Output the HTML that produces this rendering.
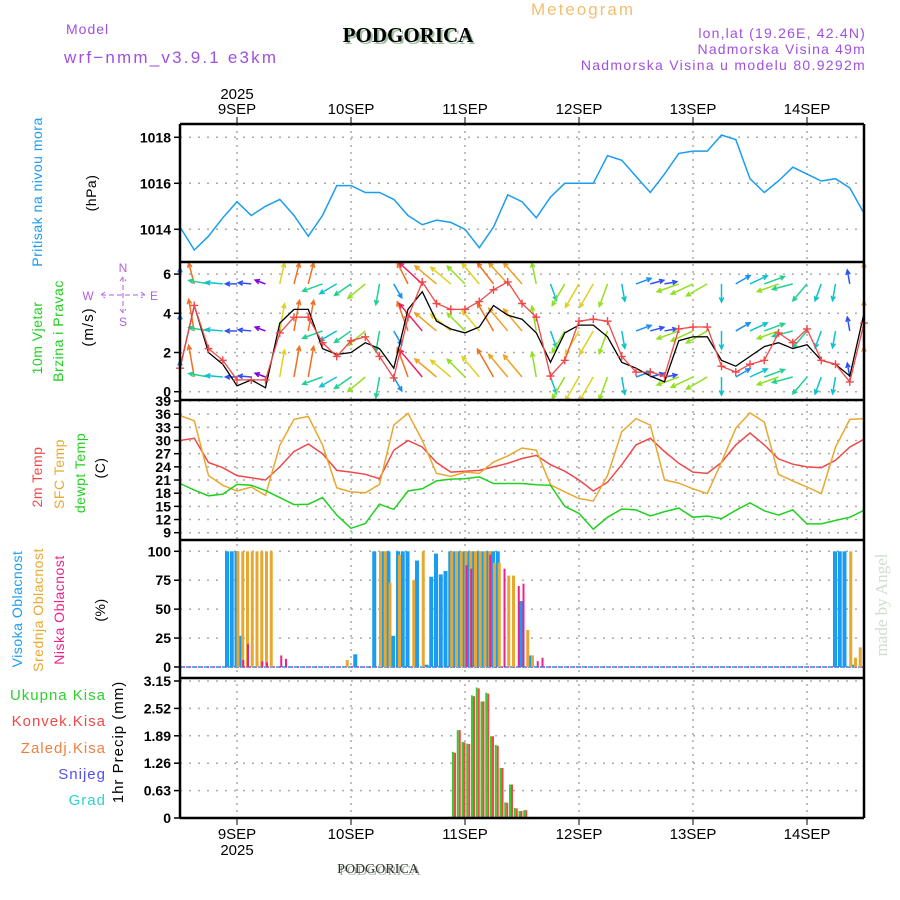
<!DOCTYPE html>
<html><head><meta charset="utf-8"><style>
body{margin:0;background:#fff;}
svg{display:block;font-family:"Liberation Sans",sans-serif;}
</style></head><body>
<svg id="c" width="900" height="900" viewBox="0 0 900 900" xmlns="http://www.w3.org/2000/svg">
<rect width="900" height="900" fill="#fff"/>
<text x="583" y="15" font-size="17" letter-spacing="2" fill="#f0c070" text-anchor="middle">Meteogram</text>
<text x="66" y="34" font-size="14" letter-spacing="1" fill="#a050e0">Model</text>
<text x="64" y="63" font-size="17" letter-spacing="2.2" fill="#a050e0">wrf−nmm_v3.9.1  e3km</text>
<text x="410" y="44" font-size="21" font-weight="bold" font-family="Liberation Serif,serif" fill="#a0c0a0" text-anchor="middle">PODGORICA</text>
<text x="408" y="42" font-size="21" font-weight="bold" font-family="Liberation Serif,serif" fill="#000" text-anchor="middle">PODGORICA</text>
<text x="866" y="38" font-size="14" letter-spacing="1.2" fill="#a050e0" text-anchor="end">lon,lat (19.26E, 42.4N)</text>
<text x="866" y="54" font-size="14" letter-spacing="1.2" fill="#a050e0" text-anchor="end">Nadmorska Visina 49m</text>
<text x="866" y="70" font-size="14" letter-spacing="1.3" fill="#a050e0" text-anchor="end">Nadmorska Visina u modelu 80.9292m</text>
<g id="g"></g>
<text x="380" y="875" font-size="14" font-family="Liberation Serif,serif" fill="#a0b0a0" text-anchor="middle">PODGORICA</text>
<text x="378" y="873" font-size="14" font-family="Liberation Serif,serif" fill="#333" text-anchor="middle">PODGORICA</text>
<text transform="translate(887,605) rotate(-90)" font-size="17" font-family="Liberation Serif,serif" fill="#d0dcd0" text-anchor="middle">made by Angel</text>
</svg>
<script>
// ---- data (3-hourly from 12UTC 8 Sep, hour index) ----
const hours3 = [0,3,6,9,12,15,18,21,24,27,30,33,36,39,42,45,48,51,54,57,60,63,66,69,72,75,78,81,84,87,90,93,96,99,102,105,108,111,114,117,120,123,126,129,132,135,138,141,144];
const pressure = [1014.1,1013.1,1013.7,1014.5,1015.2,1014.6,1015.0,1015.3,1014.6,1013.7,1014.6,1015.9,1015.9,1015.6,1015.6,1015.3,1014.6,1014.2,1014.4,1014.3,1014.0,1013.2,1014.1,1015.5,1015.2,1014.5,1015.4,1016.0,1016.0,1016.0,1017.2,1017.0,1016.3,1015.6,1016.4,1017.3,1017.4,1017.4,1018.1,1017.9,1016.2,1015.6,1016.1,1016.7,1016.4,1016.1,1016.2,1015.8,1014.7];
const windSpeed = [1.2,4.4,2.0,1.4,0.3,0.6,0.2,3.5,4.2,4.2,2.2,1.9,2.0,2.5,2.2,1.2,4.2,5.1,3.6,3.2,3.0,3.3,4.4,3.9,3.7,3.0,1.5,3.0,3.4,3.4,2.8,1.5,1.2,0.8,0.5,2.6,2.8,2.8,1.6,1.3,1.8,2.3,2.5,2.2,2.4,1.6,1.4,0.8,4.0];
const windGust = [1.2,4.4,2.2,1.6,0.6,0.6,0.6,3.0,3.8,3.8,2.5,1.8,2.6,2.8,1.8,0.7,3.8,5.6,4.5,4.2,4.2,4.6,5.2,5.6,4.5,3.8,0.8,1.6,3.6,3.7,3.6,1.8,1.0,1.0,0.8,3.2,3.3,3.3,1.3,1.0,1.4,1.6,3.0,2.5,3.2,1.6,1.4,0.5,3.5];
const windDir = [90,100,170,175,180,175,160,80,80,80,200,210,215,220,260,300,110,130,140,140,135,130,120,130,130,100,290,240,240,240,250,280,20,15,10,200,205,210,270,30,25,20,200,195,230,250,260,100,90];
const temp2m = [30.0,30.5,25.0,23.8,22.0,21.5,21.0,24.0,27.5,29.2,27.0,23.2,22.8,22.3,21.3,27.8,30.0,28.5,25.0,22.8,23.0,23.2,24.0,24.8,25.9,26.6,24.5,23.0,21.0,18.5,20.5,24.5,29.0,30.5,27.5,24.8,22.8,22.5,25.0,29.0,31.7,29.0,25.8,24.6,24.0,23.8,25.5,28.5,30.3];
const tempSfc = [35.7,34.5,22.0,19.8,18.5,19.4,17.5,28.9,34.8,35.5,29.0,19.2,18.3,18.1,20.0,33.5,36.2,30.0,22.5,21.8,22.8,22.5,25.1,26.5,28.3,27.8,19.9,18.3,16.8,16.2,22.0,32.0,35.0,33.5,21.0,20.3,19.0,17.9,25.1,32.8,36.3,34.2,22.3,20.8,19.4,17.9,28.5,34.8,35.0];
const tempDew = [20.2,18.7,17.4,17.8,20.0,19.8,18.6,17.0,15.4,15.5,17.0,13.0,10.0,11.1,15.5,14.3,18.5,19.0,20.8,21.2,21.3,21.7,20.2,20.2,20.2,19.9,19.8,15.0,13.4,9.8,12.5,14.4,14.2,12.8,13.8,14.6,12.5,12.8,12.2,14.1,15.8,14.0,13.0,14.2,11.0,11.0,11.8,12.5,14.1];
// cloud cover (hourly, only non-zero hours)
const highHours = [10,11,12,13,37,41,43,44,45,46,47,48,50,52,53,54,55,56,57,58,59,60,61,62,63,64,65,66,67,72,74,138,139,140,142];
const highVals  = [100,100,100,27,11,100,100,100,27,100,100,100,92,2,78,98,80,83,100,100,100,100,100,100,100,100,100,100,100,57,10,100,100,100,2];
const midHours = [12,13,14,15,16,17,18,19,35,42,43,44,46,49,51,57,58,59,60,61,62,63,64,65,66,67,69,70,73,74,141,142,143];
const midVals  = [100,100,100,100,100,100,100,100,6,100,100,73,97,75,100,100,100,100,100,100,100,100,100,100,90,90,79,79,32,10,100,8,17];
const lowHours = [13,14,17,18,21,22,60,61,65,68,71,72,75,76];
const lowVals  = [6,20,5,4,10,7,88,85,97,85,70,72,5,8];
// precipitation (hourly)
const precipHours = [57,58,59,60,61,62,63,64,65,66,67,68,69,70,71,72,73];
const precipTotal = [0.03,1.52,2.02,1.75,1.71,2.82,3.0,2.68,2.88,1.88,1.68,1.15,0.36,0.77,0.23,0.16,0.18];
const precipConv  = [0.03,1.50,2.02,1.74,1.70,2.80,2.98,2.68,2.86,1.88,1.66,1.15,0.35,0.77,0.22,0.16,0.18];
// ticks
const dayLabels = ["9SEP","10SEP","11SEP","12SEP","13SEP","14SEP"];
const dayHours = [12,36,60,84,108,132];
const pTicks = [1014,1016,1018];
const wTicks = [0,2,4,6];
const tTicks = [9,12,15,18,21,24,27,30,33,36,39];
const cTicks = [0,25,50,75,100];
const rTicks = [0,0.63,1.26,1.89,2.52,3.15];

const NS="http://www.w3.org/2000/svg";
const g=document.getElementById('g');
function el(tag,attrs,parent){const e=document.createElementNS(NS,tag);for(const k in attrs)e.setAttribute(k,attrs[k]);(parent||g).appendChild(e);return e;}
const X0=180,X1=864;
const x=h=>X0+h*(X1-X0)/144;
const py=p=>229.3-(p-1014)*23;
const wy=v=>391.7-v*19.6;
const ty=t=>401+(39-t)*4.39;
const cy=c=>667-c*1.157;
const ry=r=>818-r*(137/3.15);
const panels=[[124,262],[262,400],[400,540],[540,678],[678,818]];

function hgrid(vals,f,top,bot,fmt,name){
  vals.forEach(v=>{const y=f(v);
    if(y>top+1&&y<bot-1){const l=el('line',{x1:X0,x2:X1,y1:y,y2:y,stroke:'#aaa','stroke-width':1.5,'stroke-dasharray':'2,7'});
    
    }
    el('line',{x1:X0-6,x2:X0,y1:y,y2:y,stroke:'#000','stroke-width':1.5});
    const t=el('text',{x:X0-9,y:y+5,'font-size':14,'font-weight':'bold','text-anchor':'end',fill:'#000'});
    t.textContent=fmt(v);
    
    
  });
}
hgrid(pTicks,py,124,262,v=>v,'pressure');
hgrid(wTicks,wy,262,400,v=>v,'wind');
hgrid(tTicks,ty,398,540,v=>v,'temp');
hgrid(cTicks,cy,540,678,v=>v,'cloud');
hgrid(rTicks,ry,676,818,v=>v===0?'0':v.toFixed(2),'precip');
dayHours.forEach((h,i)=>{
  const l=el('line',{x1:x(h),x2:x(h),y1:124,y2:818,stroke:'#aaa','stroke-width':1.5,'stroke-dasharray':'2,5'});
  
  
  el('line',{x1:x(h),x2:x(h),y1:117,y2:124,stroke:'#000','stroke-width':1});
  el('line',{x1:x(h),x2:x(h),y1:818,y2:825,stroke:'#000','stroke-width':1});
  const t=el('text',{x:x(h),y:114,'font-size':15,'text-anchor':'middle',fill:'#000'});
  t.textContent=dayLabels[i];
  
  
  const b=el('text',{x:x(h),y:839,'font-size':15,'text-anchor':'middle',fill:'#000'});
  b.textContent=dayLabels[i];
  
  
});
{const t=el('text',{x:x(12),y:99,'font-size':15,'text-anchor':'middle'});t.textContent='2025';


const b=el('text',{x:x(12),y:855,'font-size':15,'text-anchor':'middle'});b.textContent='2025';

}

function line(vals,f,color,name,w){
  const d=vals.map((v,i)=>(i?'L':'M')+x(hours3[i]).toFixed(1)+','+f(v).toFixed(1)).join('');
  const p=el('path',{d:d,fill:'none',stroke:color,'stroke-width':w||1.5});
  
  
  return p;
}
line(pressure,py,'#1a9cf0','pressure-line');

function spColor(s){const c=['#8000e0','#3050f0','#1890f0','#10c0d0','#20d090','#90e020','#e0d020','#f0a020','#f07020','#f02060','#e01090'];
  return c[Math.max(0,Math.min(c.length-1,Math.round(s/0.55)))];}
[0.75,3.1,5.5].forEach((lev,ri)=>{
  windDir.forEach((dir,i)=>{
    const s=windSpeed[i],col=spColor(s),L=10+s*5,a=dir*Math.PI/180;
    const x1=x(hours3[i]),y1=wy(lev),x2=x1+L*Math.cos(a),y2=Math.max(263,y1-L*Math.sin(a));
    const ang=Math.atan2(y2-y1,x2-x1);
    const ar=el('path',{d:`M${x1},${y1}L${x2},${y2}M${x2-5*Math.cos(ang-0.45)},${y2-5*Math.sin(ang-0.45)}L${x2},${y2}L${x2-5*Math.cos(ang+0.45)},${y2-5*Math.sin(ang+0.45)}`,stroke:col,'stroke-width':1.5,fill:'none'});
    
    
  });
});
line(windSpeed,wy,'#000','wind-speed-line',1.3);
line(windGust,wy,'#f04848','wind-gust-line',1.3);
windGust.forEach((v,i)=>{const cx=x(hours3[i]),cyv=wy(v);
  const m=el('path',{d:`M${cx-4},${cyv}h8M${cx},${cyv-4}v8`,stroke:'#f04848','stroke-width':1.4});
  
  });

line(temp2m,ty,'#f04848','temp-2m-line');
line(tempSfc,ty,'#e8a830','temp-sfc-line');
line(tempDew,ty,'#20d020','dewpoint-line');

el('line',{x1:X0,x2:X1,y1:cy(0),y2:cy(0),stroke:'#1a9cf0','stroke-width':1.5,'stroke-dasharray':'3,3'});
el('line',{x1:X0+3,x2:X1,y1:cy(0),y2:cy(0),stroke:'#f0208a','stroke-width':1.5,'stroke-dasharray':'2,4'});
function bars(hs,vs,color,off,w,name){
  hs.forEach((h,i)=>{const y=cy(vs[i]);
    const r=el('rect',{x:x(h)+off,y:y,width:w,height:cy(0)-y,fill:color});
    
    });
}
bars(highHours,highVals,'#1a9cf0',-2.5,4,'high-cloud-bar');
bars(midHours,midVals,'#e8a830',-0.5,3,'mid-cloud-bar');
bars(lowHours,lowVals,'#f0208a',0.5,2,'low-cloud-bar');

precipHours.forEach((h,i)=>{
  const yt=ry(precipTotal[i]),yc=ry(precipConv[i]);
  const a=el('rect',{x:x(h)-3.5,y:yt,width:2,height:818-yt,fill:'#30d030'});
  
  
  const b=el('rect',{x:x(h)-1.5,y:yc,width:2,height:818-yc,fill:'#f04848'});
  
  
});

panels.forEach(([t,b])=>{el('line',{x1:X0,x2:X1,y1:t,y2:t,stroke:'#000','stroke-width':2.5});});
el('line',{x1:X0,x2:X1,y1:818,y2:818,stroke:'#000','stroke-width':2.5});
el('line',{x1:X0,x2:X0,y1:124,y2:818,stroke:'#000','stroke-width':2.5});
el('line',{x1:X1,x2:X1,y1:124,y2:818,stroke:'#000','stroke-width':2.5});

function vlab(txt,cx,cyv,color,size,name,ls){
  const t=el('text',{transform:`translate(${cx},${cyv}) rotate(-90)`,'font-size':size||14,fill:color,'text-anchor':'middle','letter-spacing':ls||0.5});
  t.textContent=txt;
  
  }
vlab('Pritisak na nivou mora',42,192,'#1a9cf0',14,'pressure-axis-title');
vlab('(hPa)',96,193,'#000',14,'pressure-unit');
vlab('10m Vjetar',42,338,'#20d020',14,'wind-axis-title');
vlab('Brzina i Pravac',63,331,'#20d020',14,'wind-axis-subtitle');
vlab('(m/s)',93,327,'#000',15,'wind-unit',1);
vlab('2m Temp',42,477,'#f04848',14,'temp-2m-title');
vlab('SFC Temp',64,474,'#e8a830',14,'temp-sfc-title');
vlab('dewpt Temp',85,473,'#20d020',14,'dewpoint-title');
vlab('(C)',105,468,'#000',14,'temp-unit');
vlab('Visoka Oblacnost',22,609,'#1a9cf0',14,'high-cloud-title');
vlab('Srednja Oblacnost',43,610,'#e8a830',14,'mid-cloud-title');
vlab('Niska Oblacnost',64,610,'#f0208a',14,'low-cloud-title');
vlab('(%)',105,610,'#000',14,'cloud-unit');
vlab('1hr Precip (mm)',123,742,'#000',15,'precip-axis-title',1);
[['Ukupna  Kisa','#30d030',700],['Konvek.Kisa','#f04848',726],['Zaledj.Kisa','#f08040',753],['Snijeg','#5050f0',779],['Grad','#30d0d0',805]].forEach(([t,c,y])=>{
  const e=el('text',{x:106,y:y,'font-size':15,'letter-spacing':1,fill:c,'text-anchor':'end'});e.textContent=t;
  
  });
const cp='#b060e0';
[['N',123,272],['S',123,326],['W',88,300],['E',154,300]].forEach(([t,a,b])=>{const e=el('text',{x:a,y:b,'font-size':12,fill:cp,'text-anchor':'middle'});e.textContent=t;
  
  });
el('path',{d:'M101,295h44M123,277v36M105,292l-4,3l4,3M141,292l4,3l-4,3M120,281l3,-4l3,4M120,309l3,4l3,-4',stroke:cp,'stroke-width':1,fill:'none','stroke-dasharray':'5,3'});
</script>
</body></html>
